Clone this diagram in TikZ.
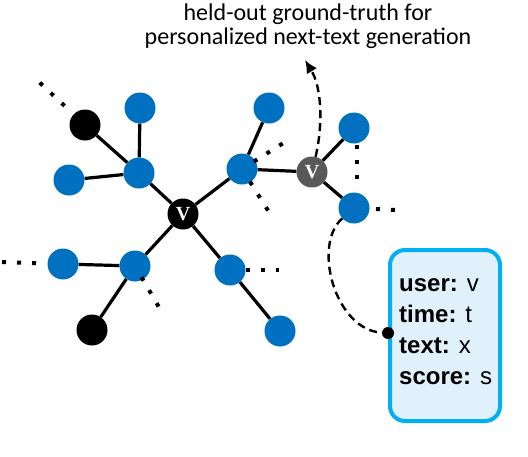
\documentclass[tikz,border=0pt]{standalone}
\usepackage{fontspec}
\setmainfont{Carlito}
\newfontfamily\cardfont{Liberation Sans}
\newfontfamily\vfont{Liberation Serif}
\usetikzlibrary{arrows.meta,calc}
\definecolor{ink}{HTML}{000000}
\definecolor{blue}{HTML}{0070C0}
\definecolor{grey}{HTML}{595959}
\definecolor{cyan}{HTML}{00B0F0}
\definecolor{pale}{HTML}{E1F1FB}

\begin{document}
\begin{tikzpicture}[x=1pt,y=-1pt,>=Latex]
\tikzset{
  dot/.style={circle,inner sep=0pt,minimum size=31pt},
  bnode/.style={dot,fill=blue},
  knode/.style={dot,fill=ink},
  vnode/.style={dot,text=white,font=\vfont\bfseries\fontsize{20}{20}\selectfont},
  edge/.style={line width=3.2pt,ink},
  dots/.style={line width=4pt,ink,dash pattern=on 4pt off 11pt},
  card/.style={draw=cyan,fill=pale,line width=4pt,rounded corners=15pt,
    minimum width=110pt,minimum height=171pt,inner sep=0pt}
}
\useasboundingbox (0,0) rectangle (528,456);

% caption above the graph
\node[align=center,inner sep=0pt,font=\fontsize{24}{24}\selectfont] (note) at (308,26)
  {held-out ground-truth for\\personalized next-text generation};

% nodes
\node[vnode,fill=ink] (v) at (183,214) {V};
\node[vnode,fill=grey] (g) at (312,172) {V};
\node[bnode] (h1) at (139,173) {};
\node[bnode] (h2) at (242,169) {};
\node[bnode] (h3) at (135,266) {};
\node[bnode] (h4) at (230,270) {};
\node[knode] (k1) at (85,125) {};
\node[bnode] (b1) at (140,108) {};
\node[bnode] (b2) at (69,180) {};
\node[bnode] (b3) at (269,108) {};
\node[bnode] (b4) at (354,128) {};
\node[bnode] (b5) at (354,208) {};
\node[bnode] (b6) at (63,264) {};
\node[knode] (k2) at (92,330) {};
\node[bnode] (b7) at (280,331) {};

% free ends of the dotted lines
\coordinate (e1) at (38,81);
\coordinate (e2) at (285,142);
\coordinate (e3) at (269,212);
\coordinate (e5) at (396,210);
\coordinate (e6) at (1,262);
\coordinate (e7) at (160,309);
\coordinate (e8) at (279,270);
\coordinate (tip) at (305,60);

% dotted continuations
\draw[dots,shorten <=28pt] (k1.center) -- (e1);
\draw[dots,shorten <=14pt] (h2.center) -- (e2);
\draw[dots,shorten <=15pt] (h2.center) -- (e3);
\draw[dots,shorten <=17pt,shorten >=26pt] ([xshift=3pt]b4.center) -- ([xshift=3pt]b5.center);
\draw[dots,shorten <=22pt] (b5.center) -- (e5);
\draw[dots,shorten <=27pt] (b6.center) -- (e6);
\draw[dots,shorten <=13pt] (h3.center) -- (e7);
\draw[dots,shorten <=16pt] (h4.center) -- (e8);

% edges
\draw[edge] (k1) -- (h1);
\draw[edge] (b1) -- (h1);
\draw[edge] (b2) -- (h1);
\draw[edge] (h1) -- (v);
\draw[edge] (v) -- (h2);
\draw[edge] (h2) -- (b3);
\draw[edge] (h2) -- (g);
\draw[edge] (g) -- (b4);
\draw[edge] (g) -- (b5);
\draw[edge] (v) -- (h3);
\draw[edge] (h3) -- (b6);
\draw[edge] (h3) -- (k2);
\draw[edge] (v) -- (h4);
\draw[edge] (h4) -- (b7);

% record card
\node[card] (card) at (445,335.5) {};
\node[anchor=north west,inner sep=0pt,align=left,
  font=\cardfont\fontsize{24}{31}\selectfont] (rec) at ($(card.north west)+(11,30)$)
  {\textbf{user:} v\\\textbf{time:} t\\\textbf{text:} x\\\textbf{score:} s};
\node[circle,fill=ink,inner sep=0pt,minimum size=12pt] (pin) at (card.west |- 0,333) {};

% dashed links
\draw[line width=2.4pt,dash pattern=on 8pt off 5pt,-{Latex[length=13pt,width=12pt]}]
  (g) .. controls (323,125) and (322,88) .. (tip);
\draw[line width=2.4pt,dash pattern=on 8pt off 5pt]
  (b5) .. controls (312,245) and (335,330) .. (pin);
\end{tikzpicture}
\end{document}
